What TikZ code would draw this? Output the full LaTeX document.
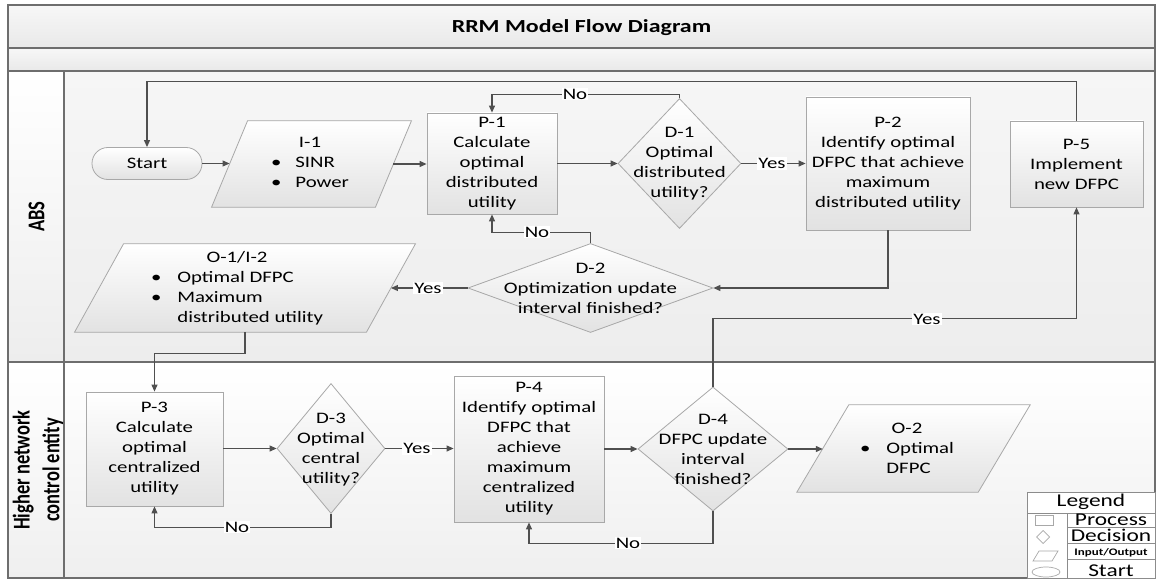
\documentclass[tikz,border=0pt]{standalone}
\usepackage{fontspec}
\setmainfont{Carlito}[FakeStretch=1.3]
\newfontfamily\plainfont{Carlito}
\usetikzlibrary{shapes.geometric,arrows.meta}
\definecolor{frame}{HTML}{6E6E6E}
\definecolor{boxline}{HTML}{A8A8A8}
\definecolor{boxbot}{HTML}{E2E2E2}
\definecolor{flowc}{HTML}{4F4F4F}
\definecolor{bandtop}{HTML}{F7F7F7}
\definecolor{bandbot}{HTML}{E9E9E9}
\definecolor{abstop}{HTML}{F6F6F6}
\definecolor{absbot}{HTML}{EDEDED}
\definecolor{lowtop}{HTML}{FFFFFF}
\definecolor{lowbot}{HTML}{EFEFEF}
\definecolor{legline}{HTML}{8C8C8C}
\pgfdeclarelayer{lanes}\pgfdeclarelayer{shapes}\pgfsetlayers{lanes,shapes,main}
\newcommand\nf{\fontsize{16}{20}\selectfont}
\newcommand\lf{\fontsize{18}{20}\selectfont}
\newcommand\parashape[2]{%
  \begin{pgfonlayer}{shapes}
  \path[draw=boxline, line width=0.8pt, top color=white, bottom color=boxbot]
    ([xshift=#2]#1.north west) -- ([xshift=#2]#1.north east) --
    ([xshift=-#2]#1.south east) -- ([xshift=-#2]#1.south west) -- cycle;
  \end{pgfonlayer}}
\tikzset{
  procbox/.style={draw=boxline, line width=0.8pt, top color=white, bottom color=boxbot,
    align=center, font=\nf, inner sep=2pt},
  decbox/.style={diamond, draw=boxline, line width=0.8pt, top color=white,
    bottom color=boxbot, inner sep=0pt},
  ioanchor/.style={inner sep=0pt},
  txt/.style={align=center, font=\nf, inner sep=0pt},
  flow/.style={draw=flowc, line width=1.1pt, -{Triangle[length=7pt,width=6pt]}},
  lbl/.style={fill=white, inner sep=1pt, font=\nf},
  lanelbl/.style={rotate=90, align=center, inner sep=0pt,
    font=\plainfont\bfseries\fontsize{18.5}{23}\selectfont},
  legtxt/.style={inner sep=0pt, font=\lf},
  legicon/.style={draw=boxline, line width=0.7pt, fill=white}
}
\begin{document}
\begin{tikzpicture}[x=1pt,y=-1pt]
\useasboundingbox (0,0) rectangle (1157,580);

% ---------- lanes ----------
\begin{pgfonlayer}{lanes}
\path[top color=bandtop, bottom color=bandbot] (8,5) rectangle (1155,48);
\path[top color=bandtop, bottom color=bandbot] (8,48) rectangle (1155,71);
\path[top color=white, bottom color=absbot] (8,71) rectangle (64,362);
\path[top color=abstop, bottom color=absbot] (64,71) rectangle (1155,362);
\path[top color=lowtop, bottom color=lowbot] (8,362) rectangle (64,578);
\path[top color=lowtop, bottom color=lowbot] (64,362) rectangle (1155,578);
\draw[frame, line width=1.2pt] (8,5) rectangle (1155,578);
\draw[frame, line width=1.2pt] (8,48) -- (1155,48);
\draw[frame, line width=1.2pt] (8,71) -- (1155,71);
\draw[frame, line width=1.2pt] (8,362) -- (1155,362);
\draw[frame, line width=1.2pt] (64,71) -- (64,578);
\end{pgfonlayer}

\node[inner sep=0pt, font=\bfseries\fontsize{18.4}{22}\selectfont] (title) at (581.5,27.5) {RRM Model Flow Diagram};
\node[lanelbl] (abs) at (36.5,216.5) {\scalebox{1}[1.3]{ABS}};
\node[lanelbl] (hne) at (38.5,470) {\scalebox{1}[1.3]{\begin{tabular}{@{}c@{}}Higher network\\control entity\end{tabular}}};

% ---------- row 1 ----------
\node[draw=boxline, line width=0.8pt, top color=white, bottom color=boxbot,
  rounded corners=15.9pt, minimum width=110pt, minimum height=32pt, inner sep=0pt, font=\nf]
  (start) at (147,163.5) {Start};

\node[ioanchor, minimum width=163.5pt, minimum height=86pt] (i1) at (311.5,164) {};
\parashape{i1}{18}
\node[txt] (i1t) at (310,164) {\begin{tabular}{@{}c@{\hspace{14pt}}l@{}}\multicolumn{2}{c}{I-1}\\ • & SINR\\ • & Power\end{tabular}};

\node[procbox, minimum width=130pt, minimum height=101pt] (p1) at (492,163.5)
  {P-1\\Calculate\\optimal\\distributed\\utility};

\node[decbox, minimum width=123pt, minimum height=130pt] (d1) at (679.5,163.5) {};
\node[txt] (d1t) at (679.5,164) {D-1\\Optimal\\distributed\\utility?};

\node[procbox, minimum width=164pt, minimum height=133pt] (p2) at (888,163.5)
  {P-2\\Identify optimal\\DFPC that achieve\\maximum\\distributed utility};

\node[procbox, minimum width=133pt, minimum height=86pt] (p5) at (1076.5,164)
  {P-5\\Implement\\new DFPC};

% ---------- row 2 (ABS) ----------
\node[decbox, minimum width=245pt, minimum height=89pt] (d2) at (590.5,288) {};
\node[txt] (d2t) at (590.5,288.5) {D-2\\Optimization update\\interval finished?};

\node[ioanchor, minimum width=291.5pt, minimum height=88pt] (o1) at (245,288) {};
\parashape{o1}{24.5}
\node[txt] (o1t) at (237,288.5) {\begin{tabular}{@{}c@{\hspace{16pt}}l@{}}\multicolumn{2}{c}{O-1/I-2}\\ • & Optimal DFPC\\ • & Maximum\\ & distributed utility\end{tabular}};

% ---------- lower lane ----------
\node[procbox, minimum width=137pt, minimum height=114pt] (p3) at (154.5,449)
  {P-3\\Calculate\\optimal\\centralized\\utility};

\node[decbox, minimum width=108pt, minimum height=130pt] (d3) at (331,448.5) {};
\node[txt] (d3t) at (331,449.5) {D-3\\Optimal\\central\\utility?};

\node[procbox, minimum width=150pt, minimum height=146pt] (p4) at (529,449)
  {P-4\\Identify optimal\\DFPC that\\achieve\\maximum\\centralized\\utility};

\node[decbox, minimum width=150pt, minimum height=124pt] (d4) at (713,449) {};
\node[txt] (d4t) at (713,449.5) {D-4\\DFPC update\\interval\\finished?};

\node[ioanchor, minimum width=181pt, minimum height=87pt] (o2) at (913.5,448.5) {};
\parashape{o2}{26}
\node[txt] (o2t) at (907,449) {\begin{tabular}{@{}c@{\hspace{16pt}}l@{}}\multicolumn{2}{c}{O-2}\\ • & Optimal\\ & DFPC\end{tabular}};

% ---------- connectors ----------
\draw[flow] (p5.north) -- ++(0,-39) -| (start.north);
\draw[flow] (start.east) -- (start.east -| i1.west);
\draw[flow] (i1.east) -- (i1.east -| p1.west);
\draw[flow] (p1.east) -- (p1.east -| d1.west);
\draw[flow] (d1.north) -- ++(0,-4) -| (p1.north);
\draw[flow] (d1.east) -- (d1.east -| p2.west);
\draw[flow] (p2.south) |- (d2.east);
\draw[flow] (d2.north) -- ++(0,-11) -| (p1.south);
\draw[flow] (d2.west) -- (d2.west -| o1.east);
\draw[flow] (o1.south) -- ++(0,21) -| (p3.north);
\draw[flow] (p3.east |- d3.west) -- (d3.west);
\draw[flow] (d3.south) -- ++(0,14) -| (p3.south);
\draw[flow] (d3.east) -- (d3.east -| p4.west);
\draw[flow] (p4.east |- d4.west) -- (d4.west);
\draw[flow] (d4.south) -- ++(0,32) -| (p4.south);
\draw[flow] (d4.north) -- ++(0,-68) -| (p5.south);
\draw[flow] (d4.east) -- (d4.east -| o2.west);

% ---------- connector labels ----------
\node[lbl] (no1) at (575,94) {No};
\node[lbl] (yes1) at (772,163.5) {Yes};
\node[lbl] (no2) at (537,232) {No};
\node[lbl] (yes2) at (428,288) {Yes};
\node[lbl] (yes3) at (417,448.5) {Yes};
\node[lbl] (no3) at (237,527) {No};
\node[lbl] (no4) at (628,543) {No};
\node[lbl] (yes4) at (927,319) {Yes};

% ---------- legend ----------
\draw[legline, line width=0.8pt, fill=white] (1027,492) rectangle (1155,578);
\draw[legline, line width=0.8pt] (1027,513) -- (1155,513);
\draw[legline, line width=0.8pt] (1067,513) -- (1067,578);
\draw[legline, line width=0.8pt] (1067,527) -- (1155,527);
\draw[legline, line width=0.8pt] (1067,543) -- (1155,543);
\draw[legline, line width=0.8pt] (1067,559) -- (1155,559);
\node[legtxt] (legt) at (1091,502) {Legend};
\node[legtxt] (legp) at (1111,520) {Process};
\node[legtxt] (legd) at (1111,535.5) {Decision};
\node[inner sep=0pt, font=\bfseries\fontsize{10}{12}\selectfont] (legio) at (1111,553) {Input/Output};
\node[legtxt] (legs) at (1111,571) {Start};
\draw[legicon] (1035,515) rectangle (1053,525);
\draw[legicon] (1036.5,537) -- (1043,530.5) -- (1049.5,537) -- (1043,543.5) -- cycle;
\draw[legicon] (1033,561) -- (1052,561) -- (1058,551) -- (1039,551) -- cycle;
\draw[legicon] (1046,572) ellipse [x radius=14, y radius=5];
\end{tikzpicture}
\end{document}
